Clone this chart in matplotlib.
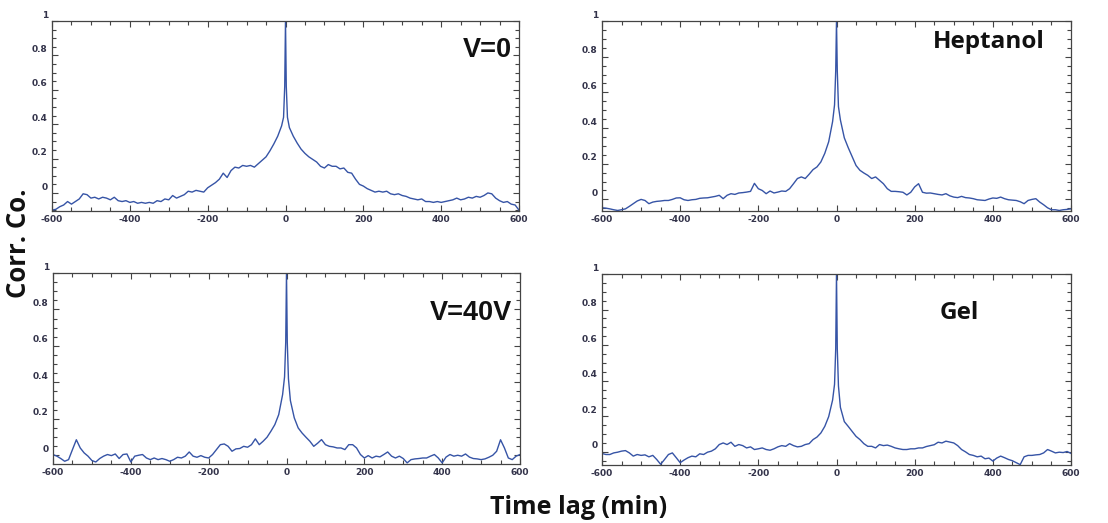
import matplotlib
matplotlib.use('Agg')
import matplotlib.pyplot as plt
from matplotlib.ticker import MultipleLocator, FuncFormatter
from matplotlib.transforms import ScaledTranslation

# time lag (min), shared by all four panels
lags = (list(range(-600, -9, 10)) + [-5, -2, 0, 2, 5] + list(range(10, 601, 10)))

# correlation coefficient
v0 = [-0.10, -0.095, -0.08, -0.07, -0.05, -0.065, -0.05, -0.035, -0.005, -0.01,
      -0.03, -0.025, -0.035, -0.025, -0.03, -0.04, -0.025, -0.045, -0.05, -0.045,
      -0.055, -0.05, -0.06, -0.055, -0.06, -0.055, -0.06, -0.045, -0.05, -0.035,
      -0.04, -0.015, -0.03, -0.02, -0.01, 0.01, 0.005, 0.015, 0.01, 0.005,
      0.03, 0.045, 0.06, 0.08, 0.115, 0.09, 0.13, 0.15, 0.145, 0.16,
      0.155, 0.16, 0.15, 0.17, 0.19, 0.21, 0.245, 0.285, 0.33, 0.39,
      0.44, 0.62, 1.0, 0.62, 0.44,
      0.38, 0.33, 0.29, 0.255, 0.23, 0.21, 0.195, 0.18, 0.155, 0.145,
      0.165, 0.155, 0.155, 0.14, 0.145, 0.12, 0.115, 0.08, 0.05, 0.04,
      0.025, 0.015, 0.005, 0.01, 0.005, 0.01, -0.005, -0.01, -0.005, -0.015,
      -0.02, -0.03, -0.035, -0.04, -0.035, -0.05, -0.05, -0.055, -0.05, -0.055,
      -0.05, -0.045, -0.04, -0.03, -0.04, -0.035, -0.025, -0.03, -0.02, -0.025,
      -0.015, 0.0, -0.005, -0.03, -0.045, -0.055, -0.05, -0.065, -0.07, -0.10]

heptanol = [-0.047, -0.049, -0.053, -0.058, -0.062, -0.058, -0.053, -0.039, -0.024, -0.009,
            0.0, -0.006, -0.024, -0.015, -0.011, -0.009, -0.006, -0.006, 0.0, 0.008,
            0.009, -0.002, -0.006, -0.002, 0.0, 0.006, 0.008, 0.009, 0.013, 0.017,
            0.023, 0.004, 0.023, 0.032, 0.028, 0.036, 0.038, 0.041, 0.045, 0.09,
            0.06, 0.05, 0.032, 0.047, 0.036, 0.041, 0.047, 0.045, 0.06, 0.088,
            0.117, 0.126, 0.117, 0.141, 0.167, 0.182, 0.21, 0.258, 0.323, 0.436,
            0.53, 0.72, 1.0, 0.72, 0.52,
            0.445, 0.345, 0.29, 0.24, 0.19, 0.163, 0.148, 0.135, 0.117, 0.126,
            0.107, 0.088, 0.06, 0.045, 0.045, 0.043, 0.04, 0.025, 0.04, 0.07,
            0.088, 0.04, 0.035, 0.036, 0.032, 0.028, 0.025, 0.032, 0.02, 0.013,
            0.01, 0.017, 0.01, 0.008, 0.004, -0.002, -0.004, -0.006, 0.002, 0.008,
            0.006, 0.013, 0.004, -0.002, -0.004, -0.006, -0.013, -0.024, -0.006, 0.0,
            0.004, -0.015, -0.03, -0.047, -0.058, -0.058, -0.062, -0.058, -0.056, -0.053]

v40 = [0.004, -0.005, -0.018, -0.033, -0.024, 0.031, 0.085, 0.04, 0.013, -0.005,
       -0.029, -0.037, -0.018, -0.005, 0.004, -0.002, 0.007, -0.018, 0.004, 0.007,
       -0.037, -0.005, 0.0, 0.004, -0.015, -0.024, -0.015, -0.024, -0.018, -0.024,
       -0.033, -0.024, -0.011, -0.015, -0.005, 0.018, -0.005, -0.011, -0.002, -0.011,
       -0.015, 0.004, 0.031, 0.058, 0.062, 0.049, 0.022, 0.035, 0.037, 0.049,
       0.044, 0.058, 0.09, 0.058, 0.077, 0.099, 0.132, 0.168, 0.223, 0.333,
       0.43, 0.62, 1.0, 0.62, 0.42,
       0.30, 0.205, 0.15, 0.122, 0.099, 0.077, 0.049, 0.066, 0.086, 0.058,
       0.049, 0.046, 0.04, 0.04, 0.031, 0.058, 0.058, 0.04, 0.004, -0.015,
       -0.002, -0.015, -0.005, -0.009, 0.004, 0.018, -0.005, -0.015, -0.005, -0.018,
       -0.042, -0.024, -0.02, -0.018, -0.015, -0.015, -0.005, 0.004, -0.015, -0.042,
       -0.01, 0.004, -0.005, 0.0, -0.005, 0.007, -0.01, -0.018, -0.02, -0.024,
       -0.02, -0.011, 0.0, 0.022, 0.085, 0.04, -0.015, -0.024, -0.005, 0.004]

gel = [-0.009, -0.015, -0.015, -0.006, -0.002, 0.004, 0.007, -0.006, -0.024, -0.015,
       -0.02, -0.017, -0.028, -0.02, -0.043, -0.07, -0.043, -0.015, -0.006, -0.033,
       -0.061, -0.046, -0.033, -0.024, -0.028, -0.011, -0.015, -0.002, 0.004, 0.017,
       0.041, 0.05, 0.041, 0.054, 0.031, 0.041, 0.035, 0.022, 0.028, 0.013,
       0.017, 0.022, 0.013, 0.009, 0.017, 0.028, 0.035, 0.031, 0.046, 0.035,
       0.028, 0.031, 0.041, 0.046, 0.069, 0.083, 0.106, 0.143, 0.198, 0.291,
       0.38, 0.58, 1.0, 0.58, 0.37,
       0.25, 0.17, 0.143, 0.115, 0.087, 0.069, 0.046, 0.031, 0.031, 0.022,
       0.041, 0.035, 0.038, 0.031, 0.022, 0.017, 0.013, 0.013, 0.017, 0.017,
       0.022, 0.022, 0.03, 0.035, 0.04, 0.054, 0.05, 0.06, 0.055, 0.05,
       0.035, 0.013, 0.0, -0.015, -0.02, -0.028, -0.024, -0.039, -0.035, -0.052,
       -0.035, -0.024, -0.033, -0.043, -0.05, -0.061, -0.072, -0.028, -0.02, -0.02,
       -0.017, -0.015, -0.006, 0.013, 0.004, -0.006, -0.002, -0.004, 0.002, -0.009]

names = ['V=0', 'Heptanol', 'V=40V', 'Gel']
series = [v0, heptanol, v40, gel]
ymins = [-0.105, -0.065, -0.048, -0.074]

W, H = 1108, 523
fig = plt.figure(figsize=(W / 100, H / 100), dpi=100)

# axes boxes in pixels: left, top, right, bottom
boxes = [(52, 21, 519, 211), (602, 21, 1071, 211),
         (53, 273, 520, 464), (602, 274, 1071, 465)]

line_col = '#3654a6'
tick_col = '#33334a'

fmt = FuncFormatter(lambda v, p: '%g' % round(v, 2))

for i in range(4):
    l, t, r, b = boxes[i]
    ax = fig.add_axes([l / W, 1 - b / H, (r - l) / W, (b - t) / H])
    ax.plot(lags, series[i], color=line_col, lw=1.0)
    ax.set_xlim(-600, 600)
    ax.set_ylim(ymins[i], 1.0)
    ax.xaxis.set_major_locator(MultipleLocator(200))
    ax.xaxis.set_minor_locator(MultipleLocator(50))
    ax.yaxis.set_major_locator(MultipleLocator(0.2))
    ax.yaxis.set_minor_locator(MultipleLocator(0.05))
    ax.xaxis.set_major_formatter(fmt)
    ax.yaxis.set_major_formatter(fmt)
    ax.tick_params(which='both', direction='in', top=True, right=True,
                   colors='#444444', width=0.8)
    ax.tick_params(which='major', length=4, labelsize=6.5, labelcolor=tick_col, pad=3)
    ax.tick_params(which='minor', length=3)
    for s in ax.spines.values():
        s.set_color('#444444')
        s.set_linewidth(0.9)
    for lab in ax.get_xticklabels() + ax.get_yticklabels():
        lab.set_fontweight('bold')
        lab.set_family('Liberation Sans Narrow')
    # y tick labels sit a little above their ticks
    for lab in ax.get_yticklabels():
        lab.set_transform(lab.get_transform() + ScaledTranslation(0, 5 / 72, fig.dpi_scale_trans))

fig.text(487 / W, 1 - 56.7 / H, 'V=0', ha='center', va='baseline',
         fontsize=19.5, fontweight='bold', family='Liberation Sans', color='#111111')
fig.text(989 / W, 1 - 47.7 / H, 'Heptanol', ha='center', va='baseline',
         fontsize=17.5, fontweight='bold', family='Open Sans', color='#111111')
fig.text(471 / W, 1 - 320 / H, 'V=40V', ha='center', va='baseline',
         fontsize=19.5, fontweight='bold', family='Liberation Sans', color='#111111')
fig.text(959 / W, 1 - 319 / H, 'Gel', ha='center', va='baseline',
         fontsize=17.5, fontweight='bold', family='Open Sans', color='#111111')

fig.text(19 / W, 1 - 243 / H, 'Corr. Co.', rotation=90, ha='center', va='center',
         fontsize=18.5, fontweight='bold', family='Open Sans', color='#111111')
fig.text(579 / W, 1 - 508 / H, 'Time lag (min)', ha='center', va='center',
         fontsize=18, fontweight='bold', family='Open Sans', color='#111111')

fig.savefig('out.png', dpi=100)
